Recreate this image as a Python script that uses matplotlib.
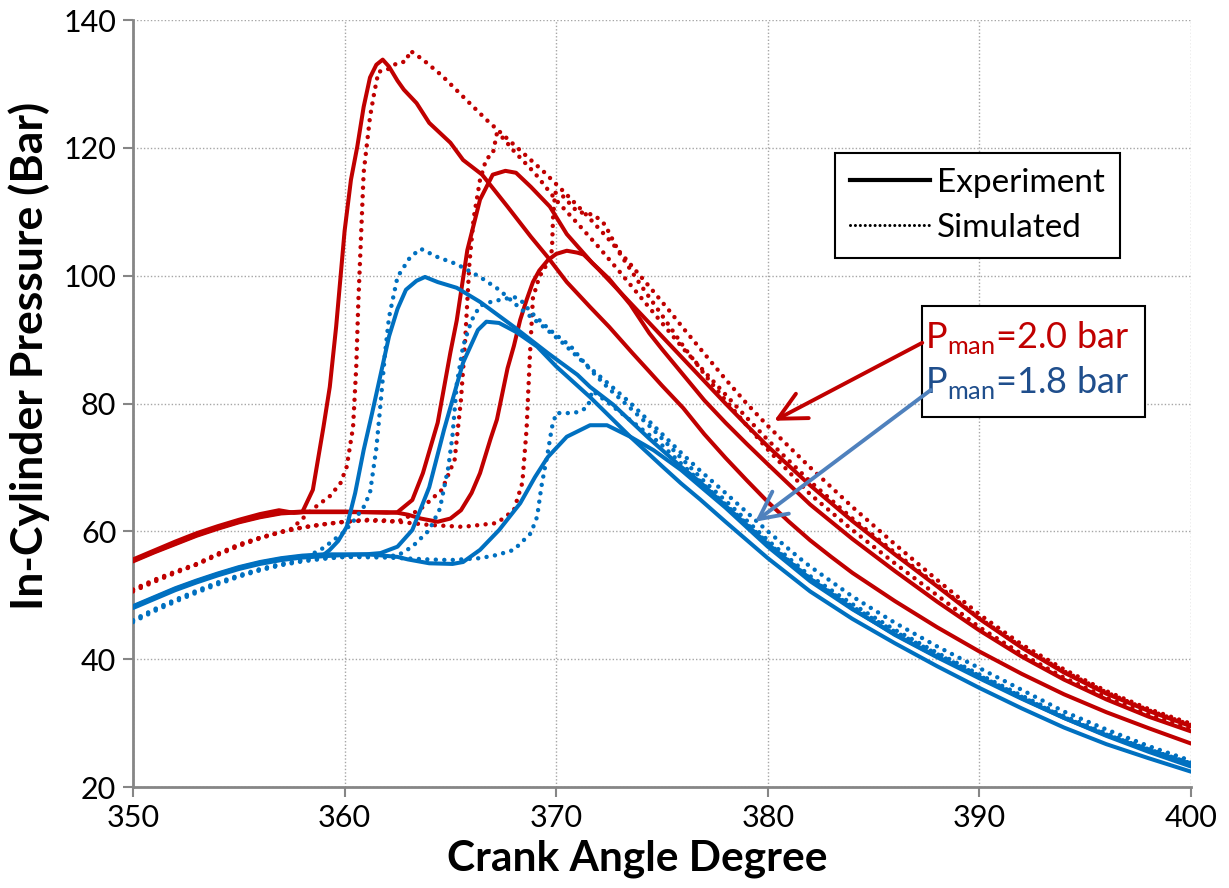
import matplotlib
matplotlib.use("Agg")
import matplotlib.pyplot as plt
from matplotlib.lines import Line2D
from matplotlib.patches import Rectangle

plt.rcParams['font.family'] = ['Lato', 'DejaVu Sans']

RED = '#C00000'
BLUE = '#0070C0'

# ---------------- data (crank angle [deg], pressure [bar]) ----------------
# Red: Pman = 2.0 bar, experiment
r1_ca = [350, 351, 352, 353, 354, 355, 356, 356.9, 357.6, 358.0, 358.5, 359.0, 359.3, 359.6, 360.0,
         360.3, 360.6, 360.9, 361.2, 361.5, 361.8, 362.1, 362.5, 362.8, 363.4, 364.0, 365.0, 365.6,
         366.5, 367.7, 368.8, 369.6, 370.5, 371.6, 372.5, 373.6, 374.4, 375.0, 376.0, 377.0, 378.0,
         379.0, 380.0, 381.0, 382.0, 383.0, 384.0, 386.0, 388.0, 390.0, 392.0, 394.0, 396.0, 398.0, 400.0]
r1_p = [55.6, 57.0, 58.4, 59.7, 60.8, 61.8, 62.7, 63.3, 62.9, 63.0, 66.5, 76.3, 82.6, 92.0, 107.0,
        115.0, 120.2, 126.4, 131.0, 133.0, 133.8, 132.7, 130.5, 129.1, 127.0, 123.9, 120.8, 118.1,
        115.8, 110.8, 106.1, 102.9, 99.0, 95.1, 92.0, 87.9, 85.0, 82.8, 79.3, 75.2, 71.5,
        68.0, 64.6, 61.5, 58.6, 56.0, 53.5, 49.1, 45.0, 41.2, 37.7, 34.5, 31.7, 29.2, 26.8]

r2_ca = [350, 351, 352, 353, 354, 355, 356, 357, 358, 359, 360, 361, 362, 362.5, 363.2, 363.7,
         364.4, 365.0, 365.3, 365.8, 366.4, 367.0, 367.6, 368.1, 368.8, 369.7, 370.5, 371.7, 372.5,
         373.5, 374.4, 375.0, 376.0, 377.0, 378.0, 379.0, 380.0, 382.0, 384.0, 386.0, 388.0, 390.0,
         392.0, 394.0, 396.0, 398.0, 400.0]
r2_p = [55.3, 56.7, 58.0, 59.3, 60.4, 61.4, 62.2, 62.8, 63.0, 63.0, 63.0, 63.0, 62.9, 63.0, 64.9, 69.1,
        77.0, 88.0, 93.0, 104.0, 111.9, 115.8, 116.4, 116.1, 113.9, 110.8, 106.5, 102.0, 99.5,
        95.5, 91.0, 88.5, 84.5, 80.5, 77.0, 73.7, 70.5, 64.2, 58.8, 53.8, 49.0, 44.5,
        40.4, 36.8, 33.7, 31.0, 28.7]

r3_ca = [350, 351, 352, 353, 354, 355, 356, 357, 358, 359, 360, 361, 362, 362.5, 363.0, 363.6,
         364.4, 365.0, 365.5, 366.0, 366.4, 366.9, 367.2, 367.7, 368.0, 368.3, 368.6, 368.9, 369.2,
         369.6, 370.0, 370.5, 371.0, 371.3, 371.7, 372.0, 373.0, 374.0, 375.0, 376.0, 377.0, 378.0,
         379.0, 380.0, 382.0, 384.0, 386.0, 388.0, 390.0, 392.0, 394.0, 396.0, 398.0, 400.0]
r3_p = [55.4, 56.8, 58.1, 59.4, 60.5, 61.5, 62.3, 62.9, 63.1, 63.1, 63.1, 63.0, 63.0, 62.9, 62.6, 62.0,
        61.5, 62.0, 63.3, 66.0, 69.1, 74.5, 77.5, 85.5, 89.0, 93.1, 96.2, 99.0, 100.8,
        102.4, 103.4, 103.9, 103.6, 103.3, 102.0, 101.0, 97.5, 94.0, 90.5, 87.0, 83.5, 80.0,
        76.6, 73.3, 67.2, 61.6, 56.4, 51.4, 46.3, 41.8, 37.9, 34.6, 31.9, 29.5]

# Red: Pman = 2.0 bar, simulated
s1_ca = [350, 351, 352, 353, 354, 355, 356, 357, 357.5, 358.5, 359.3, 359.8, 360.1, 360.4, 360.55,
         360.65, 360.75, 360.9, 361.2, 361.4, 361.6, 362.0, 362.5, 362.9, 363.1, 363.7, 364.6, 365.6,
         366.7, 367.7, 368.4, 369.4, 370.4, 371.4, 372.4, 373.4, 374.4, 375.4, 376.0, 377.0, 378.0,
         379.0, 380.0, 382.0, 384.0, 386.0, 388.0, 390.0, 392.0, 394.0, 396.0, 398.0, 400.0]
s1_p = [50.8, 52.3, 53.6, 54.8, 56.4, 57.9, 59.0, 59.9, 60.4, 63.5, 65.5, 67.5, 70.1, 76.3, 85.7,
        96.0, 104.0, 116.1, 124.8, 128.6, 131.9, 132.2, 133.3, 133.5, 135.2, 133.8, 131.3, 128.0,
        124.4, 121.4, 119.3, 116.3, 113.0, 109.6, 106.0, 102.2, 98.3, 94.3, 91.8, 87.8, 83.8,
        80.0, 76.5, 70.0, 63.8, 58.0, 52.4, 47.0, 42.3, 38.4, 35.0, 32.2, 29.9]

s2_ca = [350, 351, 352, 353, 354, 355, 356, 357, 358, 359, 360, 361, 362, 362.5, 363.0, 363.7,
         364.6, 365.2, 365.5, 365.7, 365.8, 365.9, 366.1, 366.4, 366.7, 367.0, 367.2, 367.5, 368.0,
         369.0, 370.0, 371.0, 372.0, 373.0, 374.0, 375.0, 376.0, 377.0, 378.0, 379.0, 380.0, 382.0,
         384.0, 386.0, 388.0, 390.0, 392.0, 394.0, 396.0, 398.0, 400.0]
s2_p = [50.6, 52.1, 53.5, 54.8, 56.3, 57.7, 58.9, 59.9, 60.6, 61.1, 61.5, 61.7, 61.6, 61.5, 62.3, 63.8,
        66.5, 71.2, 80.6, 90.0, 96.0, 102.0, 109.0, 115.0, 118.3, 119.0, 122.3, 121.5, 119.5,
        116.0, 111.8, 108.2, 104.5, 100.6, 96.6, 92.6, 88.6, 85.0, 81.4, 77.8, 74.3, 67.8,
        62.0, 56.7, 51.6, 46.4, 41.9, 38.1, 34.8, 32.0, 29.7]

s3_ca = [350, 351, 352, 353, 354, 355, 356, 357, 358, 359, 360, 361, 362, 362.5, 364.0, 365.6,
         367.2, 368.0, 368.4, 368.6, 368.75, 368.9, 369.2, 369.6, 369.8, 369.85, 369.95, 370.3, 371.0,
         371.8, 372.3, 373.0, 374.0, 375.0, 376.0, 377.0, 378.0, 379.0, 380.0, 382.0, 384.0, 386.0,
         388.0, 390.0, 392.0, 394.0, 396.0, 398.0, 400.0]
s3_p = [50.9, 52.4, 53.7, 54.9, 56.5, 57.9, 59.0, 59.9, 60.6, 61.1, 61.5, 61.8, 61.7, 61.5, 61.0, 60.7,
        61.3, 63.3, 67.6, 76.0, 87.0, 96.5, 99.8, 102.0, 104.0, 109.0, 113.0, 112.5, 110.0,
        109.5, 108.0, 103.5, 98.5, 93.8, 89.0, 84.6, 80.5, 76.6, 72.8, 65.8, 60.2, 55.0,
        50.0, 45.0, 40.8, 37.1, 34.0, 31.4, 29.1]

# Blue: Pman = 1.8 bar, experiment
b1_ca = [350, 351, 352, 353, 354, 355, 356, 357, 358, 359, 359.3, 359.7, 360.1, 360.5, 360.9,
         361.3, 361.7, 362.1, 362.5, 362.9, 363.4, 363.8, 364.4, 365.3, 366.4, 368.0, 369.6, 371.0,
         371.6, 372.7, 374.4, 375.9, 376.8, 378.0, 380.0, 382.0, 384.0, 386.0, 388.0, 390.0, 392.0,
         394.0, 396.0, 398.0, 400.0]
b1_p = [48.2, 49.6, 51.0, 52.2, 53.3, 54.3, 55.1, 55.7, 56.1, 56.3, 57.1, 58.5, 60.7, 66.0, 72.7,
        78.5, 84.5, 90.5, 94.8, 97.8, 99.2, 99.8, 99.0, 98.1, 95.9, 92.0, 87.9, 84.5,
        82.6, 79.8, 74.5, 70.1, 67.7, 64.0, 58.0, 52.6, 47.9, 43.8, 40.3, 37.0, 33.8,
        30.8, 28.0, 25.5, 23.2]

b2_ca = [350, 351, 352, 353, 354, 355, 356, 357, 358, 359, 360, 361, 361.7, 362.5, 363.2, 364.0,
         364.7, 365.6, 366.3, 366.7, 367.3, 368.1, 369.1, 370.0, 371.6, 373.5, 375.0, 375.9, 376.8,
         378.0, 380.0, 382.0, 384.0, 386.0, 388.0, 390.0, 392.0, 394.0, 396.0, 398.0, 400.0]
b2_p = [48.0, 49.4, 50.8, 52.0, 53.1, 54.1, 54.9, 55.5, 55.9, 56.1, 56.3, 56.4, 56.6, 57.6, 60.2, 66.9,
        75.9, 86.4, 91.5, 92.8, 92.6, 91.2, 88.9, 85.8, 81.0, 74.8, 70.2, 67.5, 65.0,
        61.5, 55.8, 50.6, 46.3, 42.5, 38.9, 35.5, 32.3, 29.3, 26.7, 24.5, 22.4]

b3_ca = [350, 351, 352, 353, 354, 355, 356, 357, 358, 359, 360, 361, 361.5, 362.5, 363.0, 364.0,
         365.1, 365.6, 366.4, 367.3, 368.3, 369.0, 369.6, 370.5, 371.6, 372.4, 373.5, 374.6, 375.9,
         377.0, 378.0, 380.0, 382.0, 384.0, 386.0, 388.0, 390.0, 392.0, 394.0, 396.0, 398.0, 400.0]
b3_p = [48.3, 49.7, 51.1, 52.3, 53.4, 54.4, 55.2, 55.8, 56.2, 56.4, 56.4, 56.4, 56.3, 56.0, 55.6, 55.0,
        54.9, 55.2, 57.1, 60.2, 64.4, 68.5, 71.6, 74.8, 76.6, 76.6, 74.8, 72.7, 69.6,
        66.5, 63.7, 57.6, 52.2, 47.8, 43.9, 40.4, 37.2, 33.9, 30.8, 28.1, 25.8, 23.6]

# Blue: Pman = 1.8 bar, simulated
t1_ca = [350, 351, 352, 353, 354, 355, 356, 357, 358, 358.5, 359.0, 359.9, 360.4, 360.9, 361.2,
         361.5, 361.7, 361.9, 362.1, 362.5, 363.1, 363.6, 364.4, 365.3, 366.4, 367.3, 368.4, 369.4,
         370.3, 371.3, 372.4, 373.5, 374.4, 375.9, 376.8, 378.0, 380.0, 381.5, 382.0, 384.0, 386.0,
         388.0, 390.0, 392.0, 394.0, 396.0, 398.0, 400.0]
t1_p = [46.0, 47.7, 49.2, 50.6, 51.9, 53.0, 54.0, 54.8, 55.4, 56.5, 57.4, 59.7, 61.5, 63.8, 66.0,
        73.0, 80.0, 87.5, 93.5, 99.8, 102.9, 104.2, 102.9, 101.8, 99.8, 97.8, 94.6, 92.0,
        89.5, 86.4, 83.3, 80.1, 77.2, 72.3, 69.5, 66.0, 60.0, 55.8, 54.5, 49.8, 45.7,
        42.0, 38.6, 35.2, 31.8, 29.0, 26.4, 24.1]

t2_ca = [350, 351, 352, 353, 354, 355, 356, 357, 358, 359, 360, 361, 362.5, 363.2, 364.0, 364.5,
         364.9, 365.1, 365.3, 365.6, 366.0, 366.4, 367.0, 367.5, 368.0, 368.4, 368.8, 369.7, 370.7,
         371.6, 372.5, 373.5, 374.5, 375.9, 377.0, 378.0, 380.0, 382.0, 384.0, 386.0, 388.0, 390.0,
         392.0, 394.0, 396.0, 398.0, 400.0]
t2_p = [45.8, 47.5, 49.0, 50.4, 51.7, 52.9, 53.9, 54.7, 55.3, 55.7, 56.0, 56.1, 56.2, 57.6, 60.2, 63.5,
        70.0, 75.0, 83.0, 89.0, 93.0, 95.3, 96.0, 96.3, 96.7, 95.9, 94.3, 91.5, 88.9,
        85.3, 82.3, 79.3, 76.2, 71.5, 67.8, 64.8, 58.6, 53.0, 48.6, 44.6, 41.0, 37.6,
        34.3, 31.1, 28.4, 26.0, 23.8]

t3_ca = [350, 351, 352, 353, 354, 355, 356, 357, 358, 359, 360, 362, 364, 365, 366.4, 367.2,
         368.0, 368.8, 369.1, 369.3, 369.6, 369.8, 370.0, 370.7, 371.1, 371.5, 371.7, 372.5, 373.5,
         374.9, 376.0, 377.0, 378.0, 380.0, 382.0, 384.0, 386.0, 388.0, 390.0, 392.0, 394.0, 396.0,
         398.0, 400.0]
t3_p = [46.1, 47.8, 49.3, 50.7, 52.0, 53.1, 54.1, 54.9, 55.5, 55.8, 56.0, 55.9, 55.6, 55.5, 55.8, 56.3,
        57.1, 59.7, 62.3, 67.0, 72.3, 76.3, 78.5, 78.5, 78.7, 79.5, 82.0, 80.0, 77.4,
        73.8, 70.3, 67.2, 64.2, 58.2, 52.6, 48.2, 44.3, 40.8, 37.4, 34.1, 30.9, 28.2,
        25.9, 23.7]

x_ticks = [350, 360, 370, 380, 390, 400]
y_ticks = [20, 40, 60, 80, 100, 120, 140]

# ---------------- figure ----------------
fig = plt.figure(figsize=(12.29, 8.88), dpi=100)
ax = fig.add_axes([133/1229, 1-787/888, (1191-133)/1229, (787-20)/888])

LW = 2.9
DLW = 3.2
DOT = (0, (0.01, 1.9))

for ca, p in [(r1_ca, r1_p), (r2_ca, r2_p), (r3_ca, r3_p)]:
    ax.plot(ca, p, color=RED, lw=LW, solid_capstyle='round', solid_joinstyle='round', zorder=3)
for ca, p in [(s1_ca, s1_p), (s2_ca, s2_p), (s3_ca, s3_p)]:
    ax.plot(ca, p, color=RED, lw=DLW, ls=DOT, dash_capstyle='round', zorder=3)
for ca, p in [(b1_ca, b1_p), (b2_ca, b2_p), (b3_ca, b3_p)]:
    ax.plot(ca, p, color=BLUE, lw=LW, solid_capstyle='round', solid_joinstyle='round', zorder=3)
for ca, p in [(t1_ca, t1_p), (t2_ca, t2_p), (t3_ca, t3_p)]:
    ax.plot(ca, p, color=BLUE, lw=DLW, ls=DOT, dash_capstyle='round', zorder=3)

ax.set_xlim(350, 400)
ax.set_ylim(20, 140)
ax.set_xticks(x_ticks)
ax.set_yticks(y_ticks)
ax.grid(True, color='#A6A6A6', lw=1.0, ls=(0, (1, 1.5)), zorder=0)
for s in ['top', 'right']:
    ax.spines[s].set_visible(False)
for s in ['left', 'bottom']:
    ax.spines[s].set_color('#868686')
    ax.spines[s].set_linewidth(2.0)
ax.tick_params(direction='out', length=7, width=1.5, color='#868686',
               labelsize=22, labelcolor='black', pad=5)

ax.set_xlabel('Crank Angle Degree', fontsize=30.5, fontweight='bold')
ax.set_ylabel('In-Cylinder Pressure (Bar)', fontsize=32, fontweight='bold')
ax.xaxis.set_label_coords(0.477, -0.069)
ax.yaxis.set_label_coords(-0.078, 0.562)

# legend
handles = [Line2D([], [], color='black', lw=3.0),
           Line2D([], [], color='black', lw=2.2, ls=(0, (0.01, 1.6)), dash_capstyle='round')]
leg = ax.legend(handles, ['Experiment', 'Simulated'], loc='upper left',
                bbox_to_anchor=(0.6635, 0.8266), borderaxespad=0, fontsize=24,
                handlelength=2.4, handletextpad=0.2, labelspacing=0.45,
                borderpad=0.45, fancybox=False, framealpha=1, edgecolor='black')
leg.get_frame().set_linewidth(1.5)
leg.set_zorder(6)

# annotation box
ax.add_patch(Rectangle((0.7457, 0.4824), 0.9565-0.7457, 0.6271-0.4824, transform=ax.transAxes,
                       facecolor='white', edgecolor='black', lw=1.5, zorder=5))
ax.text(0.7486, 0.5724, r'P$_\mathregular{man}$=2.0 bar', transform=ax.transAxes, color=RED,
        fontsize=26, va='baseline', ha='left', zorder=6)
ax.text(0.7486, 0.5137, r'P$_\mathregular{man}$=1.8 bar', transform=ax.transAxes, color='#1F4E8C',
        fontsize=26, va='baseline', ha='left', zorder=6)

red_arrow_from, red_arrow_to = (387.3, 89.5), (380.3, 77.3)
blue_arrow_from, blue_arrow_to = (387.7, 82.1), (379.4, 61.5)
ax.annotate('', xy=red_arrow_to, xytext=red_arrow_from,
            arrowprops=dict(arrowstyle='->,head_length=0.9,head_width=0.45', color=RED, lw=2.8,
                            shrinkA=0, shrinkB=0, mutation_scale=22), zorder=6)
ax.annotate('', xy=blue_arrow_to, xytext=blue_arrow_from,
            arrowprops=dict(arrowstyle='->,head_length=0.9,head_width=0.45', color='#4F81BD', lw=2.8,
                            shrinkA=0, shrinkB=0, mutation_scale=22), zorder=6)

fig.savefig('out.png', dpi=100)
